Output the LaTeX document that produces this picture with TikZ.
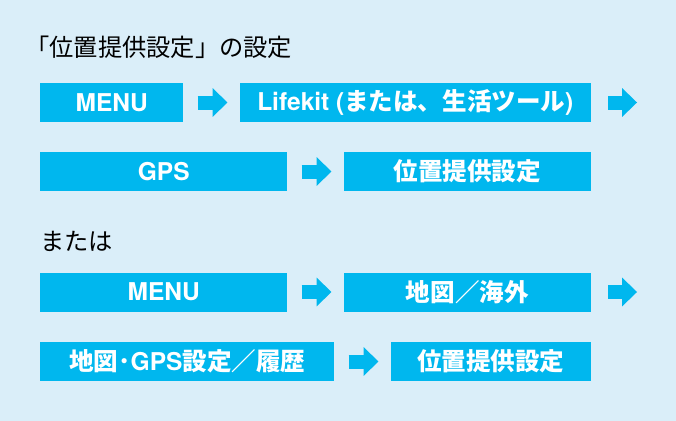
\documentclass[tikz,border=0pt]{standalone}
\usepackage{fontspec}
\setmainfont{Noto Sans CJK JP}
\newfontfamily\latina{TeX Gyre Heros}
\usepackage{tikz}
\usetikzlibrary{arrows.meta,positioning}
\definecolor{cielo}{HTML}{DAEEF9}
\definecolor{cian}{HTML}{00B7EE}

\begin{document}
\begin{tikzpicture}[
			x=0.75pt,y=-0.75pt,
			node distance=42pt,
			paso/.style={fill=cian,text=white,minimum height=29.25pt,inner sep=0pt,font=\fontsize{18.4pt}{18.4pt}\selectfont\bfseries},
			titulo/.style={anchor=west,inner sep=0pt,font=\fontsize{18.2pt}{18.2pt}\selectfont},
			flecha/.style={cian,line width=10.5pt,-{Triangle[length=11.25pt,width=21pt]}}
			]
			\fill[cielo] (0,0) rectangle (676,421);
			\useasboundingbox (0,0) rectangle (676,421);
			% primera via
			\node[titulo] (t1) at (25,47) {「位置提供設定」の設定};
			\node[paso,minimum width=107.25pt,anchor=west] (menu1) at (40,102.5) {\latina MENU};
			\node[paso,minimum width=263.25pt] (lifekit) [right=of menu1] {{\latina Lifekit (}または、生活ツール{\latina )}};
			\node[paso,minimum width=185.25pt,anchor=west] (gps) at (40,171.5) {\latina GPS};
			\node[paso,minimum width=185.25pt] (pos1) [right=of gps] {位置提供設定};
			\coordinate (fin1) at ([xshift=34.5pt]lifekit.east);
			\draw[flecha] ([xshift=10.5pt]menu1.east) -- ([xshift=-9pt]lifekit.west);
			\draw[flecha] ([xshift=12.75pt]lifekit.east) -- (fin1);
			\draw[flecha] ([xshift=10.5pt]gps.east) -- ([xshift=-9pt]pos1.west);
			% segunda via
			\node[titulo] (t2) at (40,241) {または};
			\node[paso,minimum width=185.25pt,anchor=west] (menu2) at (40,292) {\latina MENU};
			\node[paso,minimum width=185.25pt] (mapa) [right=of menu2] {地図／海外};
			\node[paso,minimum width=220.5pt,anchor=west] (mapagps) at (40,361.5) {地図･{\latina GPS}設定／履歴};
			\node[paso,minimum width=150pt] (pos2) [right=of mapagps] {位置提供設定};
			\coordinate (fin2) at ([xshift=34.5pt]mapa.east);
			\draw[flecha] ([xshift=10.5pt]menu2.east) -- ([xshift=-9pt]mapa.west);
			\draw[flecha] ([xshift=12.75pt]mapa.east) -- (fin2);
			\draw[flecha] ([xshift=10.5pt]mapagps.east) -- ([xshift=-9pt]pos2.west);
		\end{tikzpicture}
\end{document}
